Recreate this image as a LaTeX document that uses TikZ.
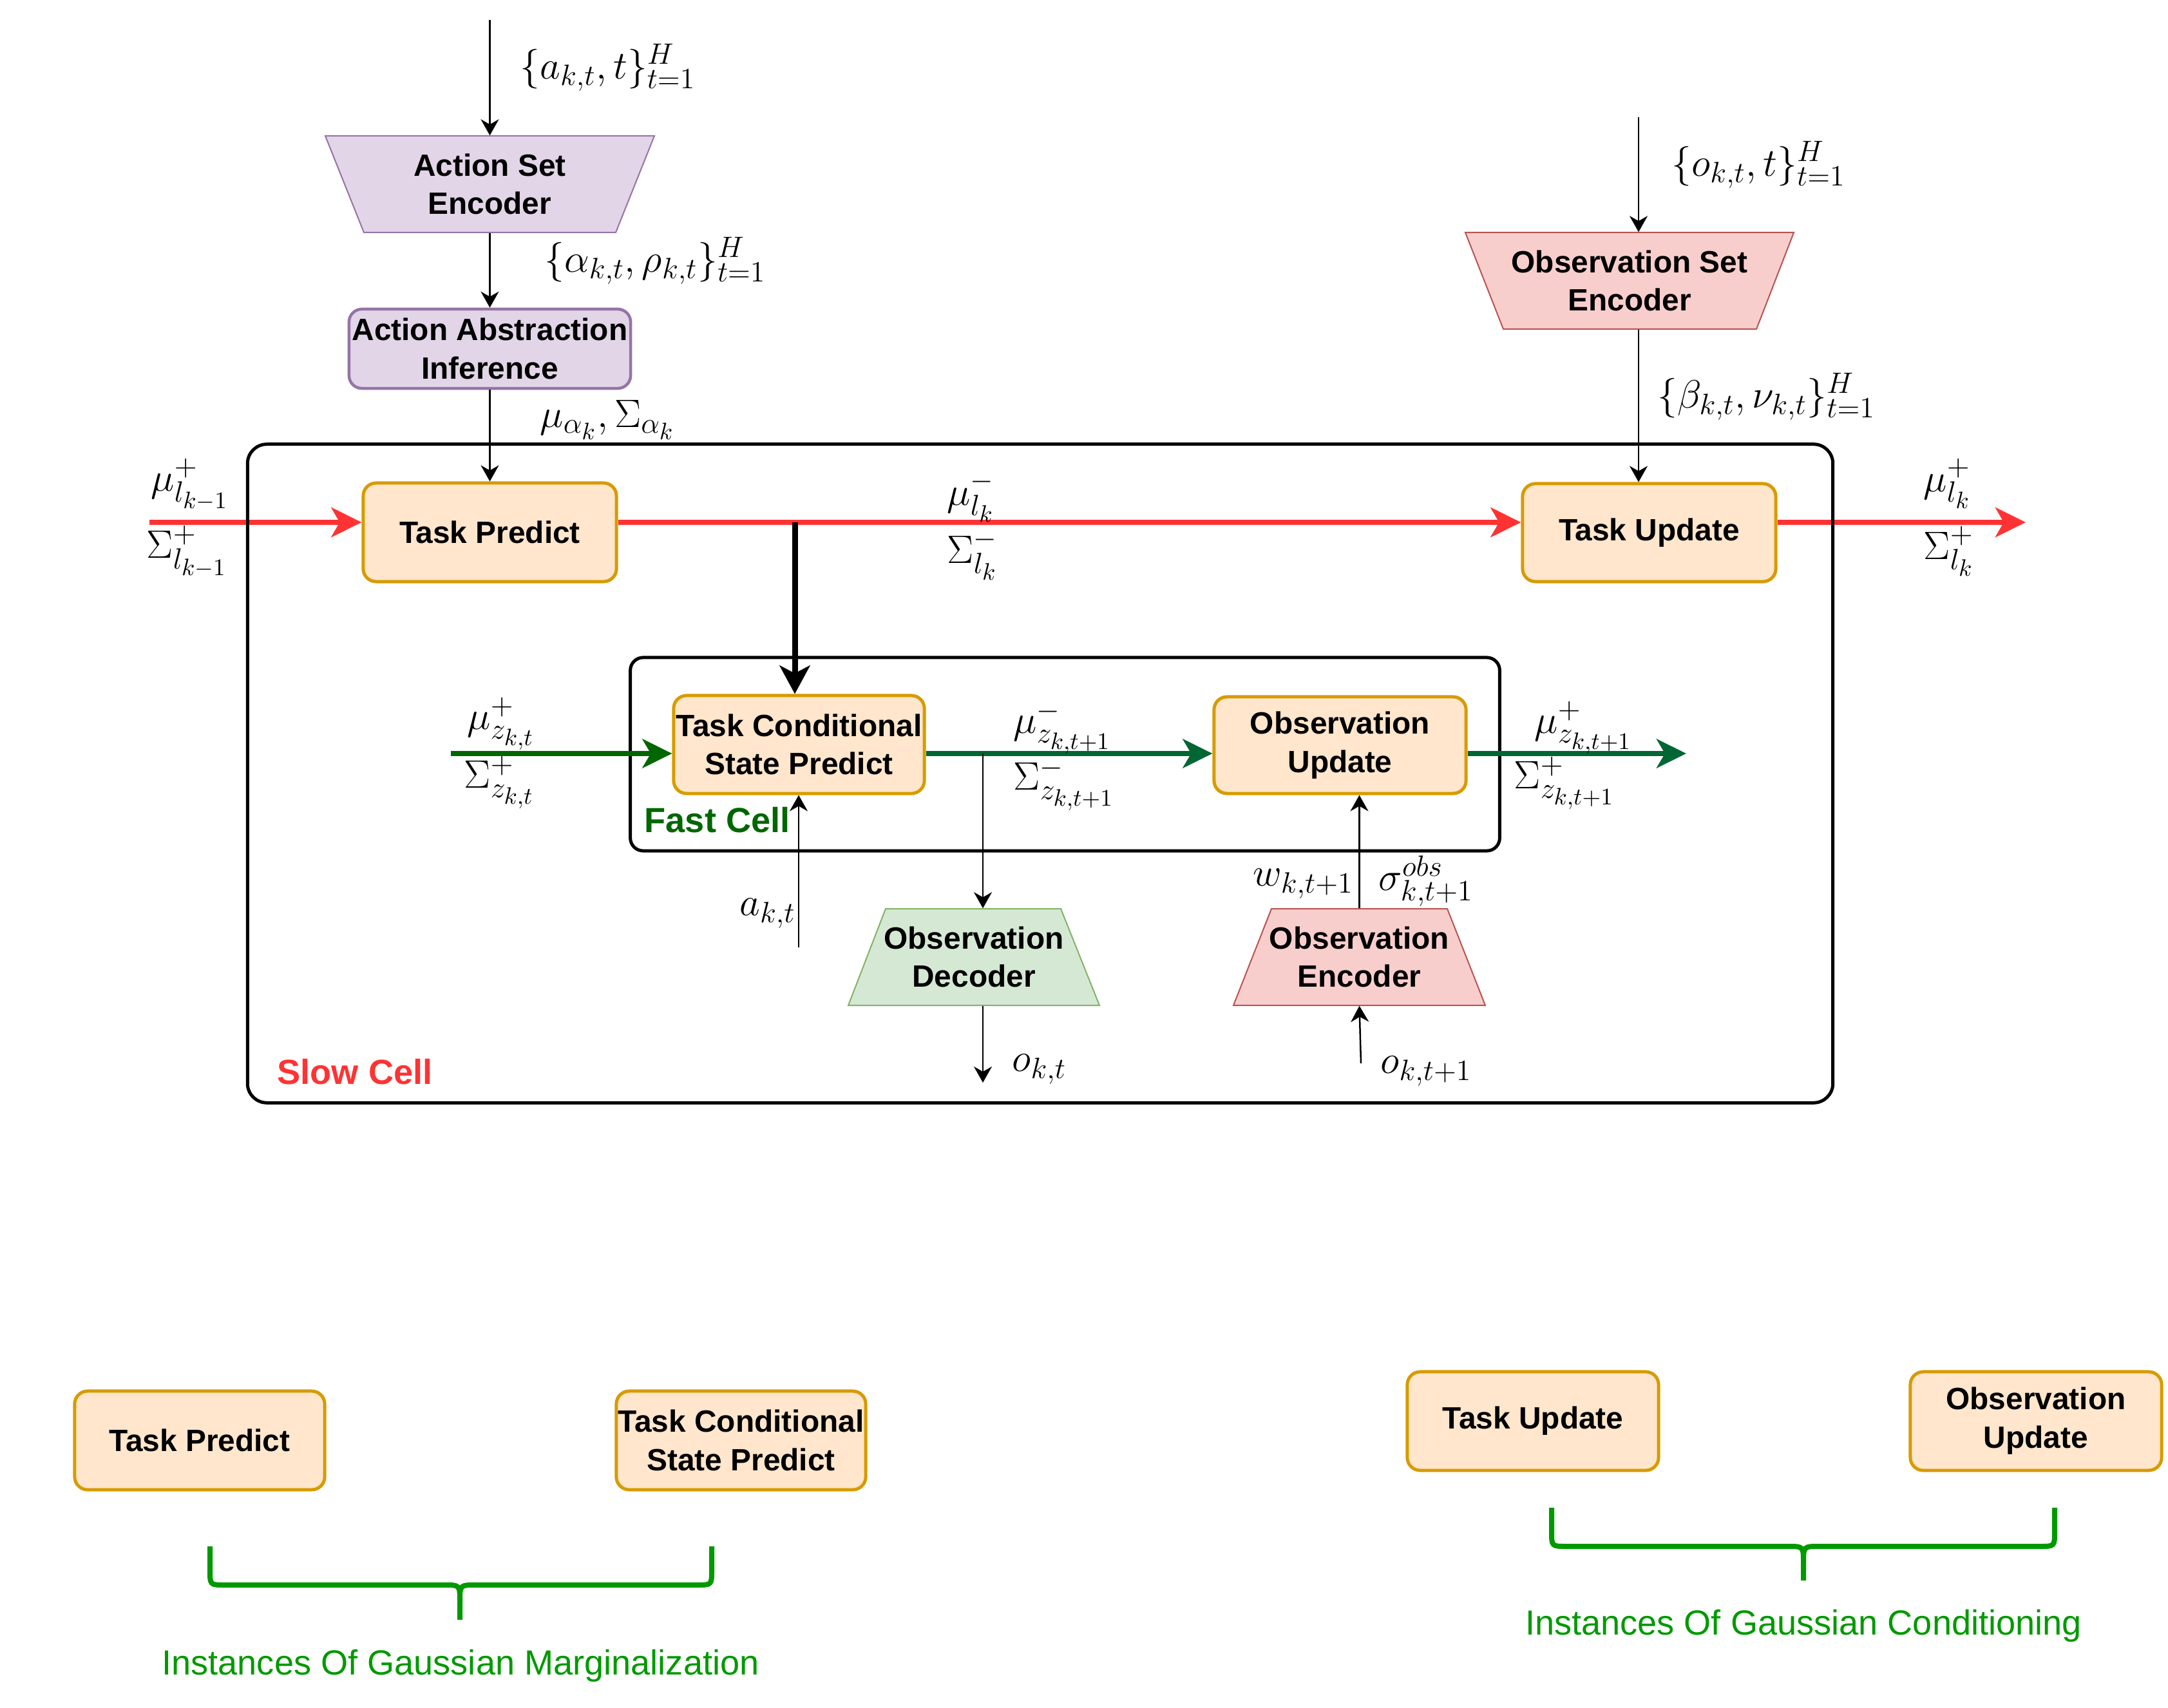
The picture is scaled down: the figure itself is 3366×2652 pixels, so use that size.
\RequirePackage{fix-cm}
\documentclass[tikz,border=0pt]{standalone}
\usepackage{fontspec}
\newfontfamily\arial{Liberation Sans}
\usetikzlibrary{arrows.meta,calc}
\DeclareMathSizes{17.5}{17.5}{13}{10.5}
\definecolor{orF}{HTML}{FFE6CC}
\definecolor{orS}{HTML}{D79B00}
\definecolor{puF}{HTML}{E1D5E7}
\definecolor{puS}{HTML}{9673A6}
\definecolor{reF}{HTML}{F8CECC}
\definecolor{reS}{HTML}{B85450}
\definecolor{grF}{HTML}{D5E8D4}
\definecolor{grS}{HTML}{82B366}
\definecolor{redA}{HTML}{FF3333}
\definecolor{grA}{HTML}{006600}
\definecolor{grB}{HTML}{006633}
\definecolor{brG}{HTML}{009900}
\begin{document}
\begin{tikzpicture}[x=0.01cm,y=-0.01cm,
  every node/.style={inner sep=0pt},
  boxtxt/.style={font=\arial\bfseries\fontsize{13.6}{17}\selectfont, align=center},
  obox/.style={boxtxt, draw=orS, fill=orF, line width=0.05cm, rounded corners=0.2cm},
  pbox/.style={boxtxt, draw=puS, fill=puF, line width=0.045cm, rounded corners=0.2cm},
  cell/.style={draw, line width=0.05cm, outer sep=0pt},
  trap/.style={line width=0.02cm},
  lbl/.style={font=\fontsize{17.5}{21}\selectfont},
  thinarrow/.style={line width=0.025cm, -{Stealth[length=0.25cm,width=0.28cm,inset=0.08cm]}},
  redarrow/.style={draw=redA, line width=0.08cm, -{Stealth[length=0.47cm,width=0.46cm,inset=0.13cm]}},
  grarrow/.style={line width=0.08cm, -{Stealth[length=0.46cm,width=0.45cm,inset=0.13cm]}},
  bigarrow/.style={line width=0.09cm, -{Stealth[length=0.44cm,width=0.47cm,inset=0.12cm]}},
  brace/.style={draw=brG, line width=0.08cm},
  celltxt/.style={font=\arial\bfseries\fontsize{15.4}{18}\selectfont},
  instxt/.style={font=\arial\fontsize{15.4}{18}\selectfont, text=brG}
]
\useasboundingbox (0,0) rectangle (3366,2652);

\coordinate (rin) at (232,811);
\coordinate (rout) at (3145,811);
\coordinate (split) at (1234,811);
\coordinate (gin) at (700,1170);
\coordinate (gout) at (2618,1170);
\coordinate (gsplit) at (1526,1170);

% cells
\node[cell, rounded corners=0.3cm, minimum width=24.6cm, minimum height=10.22cm] (slow) at (1615,1201) {};
\node[cell, rounded corners=0.2cm, minimum width=13.49cm, minimum height=3cm] (fast) at (1653.5,1171) {};

% trapezoids
\draw[trap, draw=puS, fill=puF] (505,211) -- (1016,211) -- (956,361) -- (565,361) -- cycle;
\draw[trap, draw=reS, fill=reF] (2275,361) -- (2785,361) -- (2727,511) -- (2334,511) -- cycle;
\draw[trap, draw=grS, fill=grF] (1375,1411) -- (1647,1411) -- (1707,1561) -- (1317,1561) -- cycle;
\draw[trap, draw=reS, fill=reF] (1974,1411) -- (2247,1411) -- (2306,1561) -- (1915,1561) -- cycle;
\node[boxtxt, minimum width=5.11cm, minimum height=1.5cm] (ase) at (760.5,286) {Action Set\\Encoder};
\node[boxtxt, minimum width=5.1cm, minimum height=1.5cm] (ose) at (2530,436) {Observation Set\\Encoder};
\node[boxtxt, minimum width=3.9cm, minimum height=1.5cm] (od) at (1512,1486) {Observation\\Decoder};
\node[boxtxt, minimum width=3.9cm, minimum height=1.5cm] (oe) at (2110.5,1486) {Observation\\Encoder};

% boxes
\node[pbox, minimum width=4.37cm, minimum height=1.23cm] (aai) at (760.5,541.5) {Action Abstraction\\Inference};
\node[obox, minimum width=3.93cm, minimum height=1.53cm] (tp) at (760.5,826.5) {Task Predict};
\node[obox, minimum width=3.93cm, minimum height=1.52cm] (tu) at (2560.5,827) {Task Update};
\node[obox, minimum width=3.89cm, minimum height=1.52cm] (tcsp) at (1240.5,1156) {Task Conditional\\State Predict};
\node[obox, minimum width=3.91cm, minimum height=1.5cm] (ou) at (2080.5,1157) {Observation\\Update};

% red arrows
\draw[redarrow] (rin) -- (rin -| tp.west);
\draw[redarrow] (tp.east |- rin) -- (tu.west |- rin);
\draw[redarrow] (tu.east |- rin) -- (rout);
% cell border stays on top of the red line
\draw[line width=0.05cm] (slow.west |- 0,780) -- (slow.west |- 0,840);
\draw[line width=0.05cm] (slow.east |- 0,780) -- (slow.east |- 0,840);

% top arrows
\coordinate (a0) at (760.5,31);
\draw[thinarrow] (a0) -- (ase.north);
\draw[thinarrow] (ase.south) -- (aai.north);
\draw[thinarrow] (aai.south) -- (tp.north);
\coordinate (o0) at (2544,182);
\draw[thinarrow] (o0) -- (o0 |- ose.north);
\draw[thinarrow] (o0 |- ose.south) -- (o0 |- tu.north);

% big arrow
\draw[bigarrow] (split) -- (split |- tcsp.north);

% green arrows
\draw[grarrow, draw=grA] (gin) -- (gin -| tcsp.west);
\draw[grarrow, draw=grB] (tcsp.east |- gin) -- (ou.west |- gin);
\draw[grarrow, draw=grB] (ou.east |- gin) -- (gout);

% decoder / encoder arrows
\coordinate (okt) at (1526,1681);
\draw[thinarrow] (gsplit) -- (gsplit |- od.north);
\draw[thinarrow] (gsplit |- od.south) -- (okt);
\coordinate (akt) at (1240,1471);
\draw[thinarrow] (akt) -- (akt |- tcsp.south);
\draw[thinarrow] (oe.north) -- (oe.north |- ou.south);
\coordinate (okt1) at (2113,1651);
\draw[thinarrow] (okt1) -- (oe.south);

% labels
\node[lbl, anchor=west] (l1) at (807,105) {$\{a_{k,t},t\}_{t=1}^{H}$};
\node[lbl, anchor=west] (l2) at (845,405) {$\{\alpha_{k,t},\rho_{k,t}\}_{t=1}^{H}$};
\node[lbl, anchor=west] (l3) at (838,652) {$\mu_{\alpha_k},\Sigma_{\alpha_k}$};
\node[lbl, anchor=west] (l4) at (2595,256) {$\{o_{k,t},t\}_{t=1}^{H}$};
\node[lbl, anchor=west] (l5) at (2573,616) {$\{\beta_{k,t},\nu_{k,t}\}_{t=1}^{H}$};
\node[lbl, anchor=west] (m1) at (234,752) {$\mu_{l_{k-1}}^{+}$};
\node[lbl, anchor=west] (s1) at (227,856) {$\Sigma_{l_{k-1}}^{+}$};
\node[lbl, anchor=west] (m2) at (1470,772) {$\mu_{l_{k}}^{-}$};
\node[lbl, anchor=west] (s2) at (1470,862) {$\Sigma_{l_{k}}^{-}$};
\node[lbl, anchor=west] (m3) at (2986,751) {$\mu_{l_{k}}^{+}$};
\node[lbl, anchor=west] (s3) at (2986,856) {$\Sigma_{l_{k}}^{+}$};
\node[lbl, anchor=west] (m4) at (725,1124) {$\mu_{z_{k,t}}^{+}$};
\node[lbl, anchor=west] (s4) at (720,1215) {$\Sigma_{z_{k,t}}^{+}$};
\node[lbl, anchor=west] (m5) at (1573,1130) {$\mu_{z_{k,t+1}}^{-}$};
\node[lbl, anchor=west] (s5) at (1573,1218) {$\Sigma_{z_{k,t+1}}^{-}$};
\node[lbl, anchor=west] (m6) at (2382,1130) {$\mu_{z_{k,t+1}}^{+}$};
\node[lbl, anchor=west] (s6) at (2350,1216) {$\Sigma_{z_{k,t+1}}^{+}$};
\node[lbl, anchor=east] (la) at (1236,1418) {$a_{k,t}$};
\node[lbl, anchor=east] (lw) at (2102,1372) {$w_{k,t+1}$};
\node[lbl, anchor=west] (lsig) at (2140,1368) {$\sigma_{k,t+1}^{obs}$};
\node[lbl, anchor=west] (lo1) at (1571,1660) {$o_{k,t}$};
\node[lbl, anchor=west] (lo2) at (2143,1663) {$o_{k,t+1}$};

% cell titles
\node[celltxt, text=grA, anchor=west] (fastlbl) at (1000,1273) {Fast Cell};
\node[celltxt, text=redA, anchor=west] (slowlbl) at (430,1664) {Slow Cell};

% bottom legend
\node[obox, minimum width=3.88cm, minimum height=1.53cm] (btp) at (310,2236.5) {Task Predict};
\node[obox, minimum width=3.87cm, minimum height=1.53cm] (btcsp) at (1150.5,2236.5) {Task Conditional\\State Predict};
\node[obox, minimum width=3.9cm, minimum height=1.53cm] (btu) at (2380,2206.5) {Task Update};
\node[obox, minimum width=3.9cm, minimum height=1.53cm] (bou) at (3161,2206.5) {Observation\\Update};

\draw[brace] (326,2401) -- (326,2438) .. controls (326,2461) .. (349,2461) -- (690,2461) .. controls (714,2461) .. (714,2487) -- (714,2515);
\draw[brace] (1105,2401) -- (1105,2438) .. controls (1105,2461) .. (1082,2461) -- (738,2461) .. controls (714,2461) .. (714,2487);
\draw[brace] (2409,2341) -- (2409,2378) .. controls (2409,2401) .. (2432,2401) -- (2776,2401) .. controls (2800,2401) .. (2800,2427) -- (2800,2454);
\draw[brace] (3190,2341) -- (3190,2378) .. controls (3190,2401) .. (3167,2401) -- (2824,2401) .. controls (2800,2401) .. (2800,2427);

\node[instxt, anchor=base] (im) at (715,2600) {Instances Of Gaussian Marginalization};
\node[instxt, anchor=base] (ic) at (2800,2538) {Instances Of Gaussian Conditioning};
\end{tikzpicture}
\end{document}
